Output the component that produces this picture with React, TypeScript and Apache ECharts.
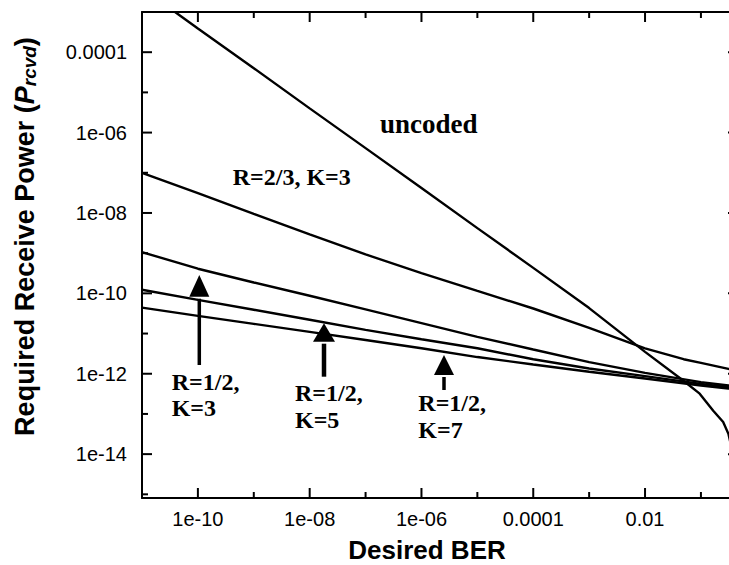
import React, { useEffect, useRef } from 'react';
import * as echarts from 'echarts';

// ---- axis definitions ----
const xRange = [1e-11, 0.5];
const yRange = [8.1e-16, 1e-3];
const xTickDecades = [1e-11, 1e-10, 1e-9, 1e-8, 1e-7, 1e-6, 1e-5, 1e-4, 1e-3, 1e-2, 1e-1];
const xMajorTicks = [1e-10, 1e-8, 1e-6, 1e-4, 1e-2];
const xTickLabels = ['1e-10', '1e-08', '1e-06', '0.0001', '0.01'];
const yTickDecades = [1e-15, 1e-14, 1e-13, 1e-12, 1e-11, 1e-10, 1e-9, 1e-8, 1e-7, 1e-6, 1e-5, 1e-4, 1e-3];
const yMajorTicks = [1e-4, 1e-6, 1e-8, 1e-10, 1e-12, 1e-14];
const yTickLabels = ['0.0001', '1e-06', '1e-08', '1e-10', '1e-12', '1e-14'];

// ---- series data (Desired BER -> Required Receive Power) ----
const uncodedBER = [3.9e-11, 1e-10, 1e-9, 1e-8, 1e-7, 1e-6, 1e-5, 1e-4, 1e-3, 1e-2, 4.8e-2, 9.5e-2, 0.166, 0.25, 0.31, 0.355];
const uncodedPower = [1.0e-3, 3.9e-4, 4.0e-5, 4.0e-6, 4.1e-7, 4.2e-8, 4.2e-9, 4.3e-10, 4.3e-11, 3.5e-12, 6.8e-13, 3.2e-13, 1.2e-13, 6.3e-14, 3.2e-14, 1.4e-14];

const r23k3BER = [1e-11, 1e-10, 1e-9, 1e-8, 1e-7, 1e-6, 1e-5, 1e-4, 1e-3, 1e-2, 4.9e-2, 1e-1, 0.31, 0.5];
const r23k3Power = [1.0e-7, 3.1e-8, 9.5e-9, 2.95e-9, 9.3e-10, 3.2e-10, 1.15e-10, 4.2e-11, 1.38e-11, 4.3e-12, 2.3e-12, 1.86e-12, 1.32e-12, 1.15e-12];

const r12BER = [1e-11, 1e-10, 1e-9, 1e-8, 1e-7, 1e-6, 1e-5, 1e-4, 1e-3, 1e-2, 1e-1, 0.31, 0.5];
const r12k3Power = [1.06e-9, 4.1e-10, 1.86e-10, 8.7e-11, 4.0e-11, 1.82e-11, 8.3e-12, 4.0e-12, 1.95e-12, 1.05e-12, 6.2e-13, 5.1e-13, 4.7e-13];
const r12k5Power = [1.23e-10, 6.9e-11, 3.9e-11, 2.2e-11, 1.23e-11, 7.2e-12, 4.3e-12, 2.3e-12, 1.35e-12, 8.7e-13, 5.6e-13, 4.6e-13, 4.2e-13];
const r12k7Power = [4.4e-11, 2.75e-11, 1.74e-11, 1.1e-11, 6.9e-12, 4.3e-12, 2.6e-12, 1.7e-12, 1.12e-12, 7.6e-13, 5.1e-13, 4.3e-13, 3.9e-13];

const L = (v: number) => Math.log10(v);
const pair = (xs: number[], ys: number[]) => xs.map((x, i) => [L(x), L(ys[i])]);
const isMajor = (list: number[], v: number) => list.some((t) => Math.abs(L(t) - L(v)) < 1e-6);

const SANS = '"Liberation Sans", Arial, Helvetica, sans-serif';
const SERIF = '"Liberation Serif", "Times New Roman", serif';

function labelFor(ticks: number[], labels: string[]) {
  return (v: number) => {
    const i = ticks.findIndex((t) => Math.abs(L(t) - v) < 1e-6);
    return i >= 0 ? labels[i] : '';
  };
}

const axisLineStyle = { color: '#000', width: 2 };

function xAxisDef(position: string, showLabels: boolean) {
  return {
    type: 'value',
    position,
    min: L(xRange[0]),
    max: L(xRange[1]),
    axisLine: { show: true, onZero: false, lineStyle: { ...axisLineStyle } },
    axisTick: { show: false },
    axisLabel: showLabels
      ? { show: true, customValues: xMajorTicks.map(L), formatter: labelFor(xMajorTicks, xTickLabels), margin: 11, fontFamily: SANS, fontSize: 20, color: '#000' }
      : { show: false },
    splitLine: { show: false },
  };
}
function yAxisDef(position: string, showLabels: boolean) {
  return {
    type: 'value',
    position,
    min: L(yRange[0]),
    max: L(yRange[1]),
    axisLine: { show: true, onZero: false, lineStyle: { ...axisLineStyle } },
    axisTick: { show: false },
    axisLabel: showLabels
      ? { show: true, customValues: yMajorTicks.map(L), formatter: labelFor(yMajorTicks, yTickLabels), margin: 15, fontFamily: SANS, fontSize: 20, color: '#000' }
      : { show: false },
    splitLine: { show: false },
  };
}

function arrow(x: number, bottom: number, base: number, tip: number, half: number, w: number) {
  return [
    { type: 'line', shape: { x1: x, y1: bottom, x2: x, y2: base + 2 }, style: { stroke: '#000', lineWidth: w } },
    { type: 'polygon', shape: { points: [[x, tip], [x - half, base], [x + half, base]] }, style: { fill: '#000' } },
  ];
}

function tick(x1: number, y1: number, x2: number, y2: number) {
  return { type: 'line', shape: { x1, y1, x2, y2 }, style: { stroke: '#000', lineWidth: 2 }, z: 5 };
}

export default function App() {
  const ref = useRef<HTMLDivElement>(null);
  useEffect(() => {
    if (!ref.current) return;
    const chart = echarts.init(ref.current, null, { renderer: 'svg' });
    const lineSeries = (name: string, data: number[][]) => ({
      name,
      type: 'line',
      data,
      xAxisIndex: 0,
      yAxisIndex: 0,
      showSymbol: false,
      symbol: 'none',
      lineStyle: { color: '#000', width: 2.4 },
      clip: true,
    });
    chart.setOption({
      animation: false,
      backgroundColor: '#fff',
      grid: { left: 142, top: 12, right: -11, bottom: 67, outerBoundsMode: 'none', containLabel: false },
      xAxis: [xAxisDef('bottom', true), xAxisDef('top', false)],
      yAxis: [yAxisDef('left', true), yAxisDef('right', false)],
      series: [
        lineSeries('uncoded', pair(uncodedBER, uncodedPower)),
        lineSeries('R=2/3, K=3', pair(r23k3BER, r23k3Power)),
        lineSeries('R=1/2, K=3', pair(r12BER, r12k3Power)),
        lineSeries('R=1/2, K=5', pair(r12BER, r12k5Power)),
        lineSeries('R=1/2, K=7', pair(r12BER, r12k7Power)),
      ],
    });

    // tick marks placed through the axes' own scales
    const px = (v: number) => chart.convertToPixel({ xAxisIndex: 0 }, L(v)) as number;
    const py = (v: number) => chart.convertToPixel({ yAxisIndex: 0 }, L(v)) as number;
    const left = px(xRange[0]);
    const right = px(xRange[1]);
    const bottom = py(yRange[0]);
    const top = py(yRange[1]);
    const ticks: any[] = [];
    xTickDecades.forEach((v) => {
      const x = px(v);
      const len = isMajor(xMajorTicks, v) ? 10 : 6;
      ticks.push(tick(x, bottom, x, bottom - len));
      ticks.push(tick(x, top, x, top + len));
    });
    yTickDecades.forEach((v) => {
      const y = py(v);
      const major = isMajor(yMajorTicks, v);
      ticks.push(tick(left, y, left + (major ? 10 : 6), y));
      ticks.push(tick(right, y, right - (major ? 12 : 6), y));
    });

    chart.setOption({
      graphic: [
        ...ticks,
        {
          type: 'text',
          x: 427,
          y: 550,
          style: { text: 'Desired BER', font: `bold 26px ${SANS}`, lineHeight: 22, fill: '#000', align: 'center', verticalAlign: 'middle' },
        },
        {
          type: 'text',
          x: 24.5,
          y: 236.5,
          rotation: Math.PI / 2,
          style: {
            text: '{n|Required Receive Power (}{p|P}{s|rcvd}{n|)}',
            align: 'center',
            verticalAlign: 'middle',
            fill: '#000',
            rich: {
              n: { fontFamily: SANS, fontWeight: 'bold', fontSize: 27, lineHeight: 29, fill: '#000' },
              p: { fontFamily: SANS, fontWeight: 'bold', fontStyle: 'italic', fontSize: 27, lineHeight: 29, fill: '#000' },
              s: { fontFamily: SANS, fontWeight: 'bold', fontStyle: 'italic', fontSize: 19, lineHeight: 19, verticalAlign: 'bottom', fill: '#000' },
            },
          },
        },
        {
          type: 'text',
          x: 380,
          y: 124,
          style: { text: 'uncoded', font: `bold 27px ${SERIF}`, fill: '#000', align: 'left', verticalAlign: 'middle' },
        },
        {
          type: 'text',
          x: 232.7,
          y: 177,
          style: { text: 'R=2/3, K=3', font: `bold 24px ${SERIF}`, fill: '#000', align: 'left', verticalAlign: 'middle' },
        },
        {
          type: 'text',
          x: 171.7,
          y: 395,
          style: { text: 'R=1/2,\nK=3', font: `bold 24px ${SERIF}`, lineHeight: 26.7, fill: '#000', align: 'left', verticalAlign: 'middle' },
        },
        {
          type: 'text',
          x: 295,
          y: 406.7,
          style: { text: 'R=1/2,\nK=5', font: `bold 24px ${SERIF}`, lineHeight: 26.7, fill: '#000', align: 'left', verticalAlign: 'middle' },
        },
        {
          type: 'text',
          x: 418.3,
          y: 416.7,
          style: { text: 'R=1/2,\nK=7', font: `bold 24px ${SERIF}`, lineHeight: 26.7, fill: '#000', align: 'left', verticalAlign: 'middle' },
        },
        ...arrow(199.3, 365, 296.7, 275, 10, 3.5),
        ...arrow(324, 376.7, 341.7, 323.3, 11, 4.5),
        ...arrow(444, 390, 375, 355, 10, 3.5),
      ],
    });
    return () => chart.dispose();
  }, []);
  return <div ref={ref} style={{ position: 'fixed', left: 0, top: 0, width: 729, height: 565, background: '#fff' }} />;
}
